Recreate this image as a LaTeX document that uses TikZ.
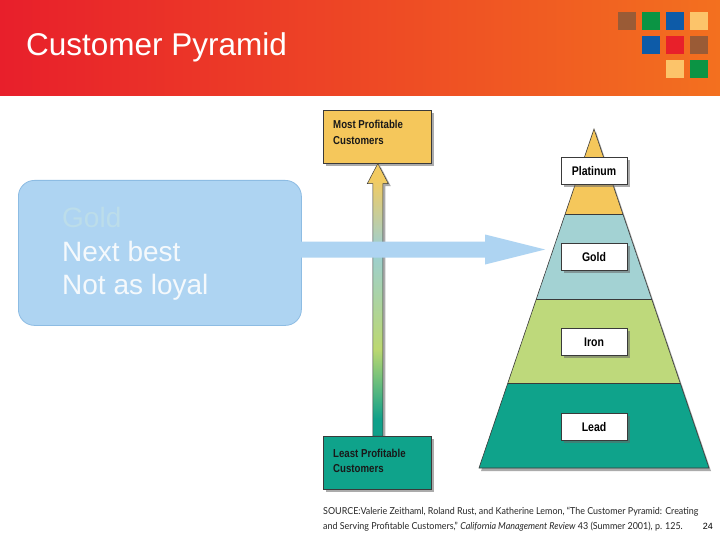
\documentclass[tikz,border=0pt]{standalone}
\usepackage{fontspec}
\usepackage{graphicx}
\setmainfont{Liberation Sans}
\newfontfamily\srcfont{Lato}
\usetikzlibrary{shadows,calc}
\definecolor{hdrL}{HTML}{E81F2B}
\definecolor{hdrR}{HTML}{F3701F}
\definecolor{sqBrown}{HTML}{9A5B36}
\definecolor{sqGreen}{HTML}{0B9444}
\definecolor{sqBlue}{HTML}{0D5BA8}
\definecolor{sqYel}{HTML}{FCC46A}
\definecolor{sqRed}{HTML}{E8202A}
\definecolor{boxF}{HTML}{AED4F2}
\definecolor{boxB}{HTML}{8DBCE3}
\definecolor{goldTxt}{HTML}{BCDDEA}
\definecolor{txtW}{HTML}{F5F9FC}
\definecolor{plat}{HTML}{F5C75B}
\definecolor{goldL}{HTML}{A3D2D3}
\definecolor{ironL}{HTML}{BED97B}
\definecolor{leadL}{HTML}{0FA38B}
\definecolor{arrY}{HTML}{F2CB62}
\definecolor{arrB}{HTML}{9CCFD3}
\definecolor{arrG}{HTML}{BCD871}
\definecolor{arrT}{HTML}{0FA08A}
\definecolor{outl}{HTML}{3A3A3A}
\pgfdeclareverticalshading{vgrad}{100bp}{color(0bp)=(arrT); color(28bp)=(arrT); color(41bp)=(arrG); color(59bp)=(arrB); color(72bp)=(arrY); color(100bp)=(arrY)}
\newcommand{\cnd}[1]{\scalebox{0.84}[1]{#1}}
\tikzset{
  shd/.style={drop shadow={shadow xshift=2.5pt, shadow yshift=-2.5pt, fill=black!60, opacity=0.55}},
  lblbox/.style={draw=outl, line width=0.6pt, fill=white, minimum width=66pt, minimum height=27pt, inner sep=0pt, shd,
    font=\bfseries\fontsize{12.5}{13}\selectfont},
  custbox/.style={draw=outl, line width=0.6pt, minimum width=108pt, minimum height=53pt, inner sep=0pt, anchor=north west, shd},
  custtxt/.style={anchor=base west, inner sep=0pt, font=\bfseries\fontsize{11.5}{12}\selectfont, text=black!90},
  bigtxt/.style={anchor=base west, inner sep=0pt, font=\fontsize{28}{30}\selectfont},
  srctxt/.style={anchor=base west, inner sep=0pt, font=\srcfont\fontsize{9.6}{11}\selectfont, text=black!85}
}
\begin{document}
\begin{tikzpicture}[x=1pt,y=-1pt]
\useasboundingbox (0,0) rectangle (720,540);
\fill[white] (0,0) rectangle (720,540);
% header
\shade[left color=hdrL, right color=hdrR] (0,0) rectangle (720,96);
\node[anchor=base west, inner sep=0pt, text=white, font=\fontsize{31.5}{33}\selectfont] (title) at (26,56) {Customer Pyramid};
% squares
\fill[sqBrown] (618,12) rectangle (636,30);
\fill[sqGreen] (642,12) rectangle (660,30);
\fill[sqBlue]  (666,12) rectangle (684,30);
\fill[sqYel]   (690,12) rectangle (708,30);
\fill[sqBlue]  (642,36) rectangle (660,54);
\fill[sqRed]   (666,36) rectangle (684,54);
\fill[sqBrown] (690,36) rectangle (708,54);
\fill[sqYel]   (666,60) rectangle (684,78);
\fill[sqGreen] (690,60) rectangle (708,78);
% customer boxes
\node[custbox, fill=plat] (mostp) at (323,110) {};
\node[custtxt] (mostt1) at (333,129) {\cnd{Most Profitable}};
\node[custtxt] (mostt2) at (333,145) {\cnd{Customers}};
\node[custbox, fill=leadL] (leastp) at (323,436) {};
\node[custtxt] (leastt1) at (333,457) {\cnd{Least Profitable}};
\node[custtxt] (leastt2) at (333,472) {\cnd{Customers}};
% vertical arrow
\coordinate (tip) at ($(mostp.south)+(0.5,0)$);
\coordinate (base) at ($(leastp.north)+(0.5,0)$);
\fill[black!60, opacity=0.55] ($(tip)+(2.5,2.5)$) -- ++(10.5,20) -- ++(-5.5,0) |- ($(base)+(-2.5,0)$) -- cycle;
\shade[shading=vgrad, draw=outl, line width=0.5pt] (tip) -- ++(10.5,20) -- ++(-5.5,0) -- ($(base)+(5,0)$) -- ($(base)+(-5,0)$) -- ($(tip)+(-5,20)$) -- ++(-5.5,0) -- cycle;
% pyramid
\coordinate (A) at (594,129);
\coordinate (BL) at (479,468);
\coordinate (BR) at (709,468);
\fill[black!55, opacity=0.6] ($(A)+(2,3)$) -- ($(BR)+(2,3)$) -- ($(BL)+(2,3)$) -- cycle;
\fill[leadL] (BL) -- (BR) -- ($(A)!0.7493!(BR)$) -- ($(A)!0.7493!(BL)$) -- cycle;
\fill[ironL] ($(A)!0.7493!(BL)$) -- ($(A)!0.7493!(BR)$) -- ($(A)!0.5015!(BR)$) -- ($(A)!0.5015!(BL)$) -- cycle;
\fill[goldL] ($(A)!0.5015!(BL)$) -- ($(A)!0.5015!(BR)$) -- ($(A)!0.2507!(BR)$) -- ($(A)!0.2507!(BL)$) -- cycle;
\fill[plat] ($(A)!0.2507!(BL)$) -- ($(A)!0.2507!(BR)$) -- (A) -- cycle;
\draw[outl, line width=0.6pt] ($(A)!0.2507!(BL)$) -- ($(A)!0.2507!(BR)$);
\draw[outl, line width=0.6pt] ($(A)!0.5015!(BL)$) -- ($(A)!0.5015!(BR)$);
\draw[outl, line width=0.6pt] ($(A)!0.7493!(BL)$) -- ($(A)!0.7493!(BR)$);
\draw[outl, line width=0.6pt, line join=miter] (A) -- (BR) -- (BL) -- cycle;
\node[lblbox] (platinum) at (594,171) {\cnd{Platinum}};
\node[lblbox] (gold) at (594,257) {\cnd{Gold}};
\node[lblbox] (iron) at (594,342) {\cnd{Iron}};
\node[lblbox] (lead) at (594,427) {\cnd{Lead}};
% blue callout box
\node[draw=boxB, fill=boxF, line width=0.8pt, rounded corners=16pt, minimum width=283pt, minimum height=145pt, anchor=north west, inner sep=0pt] (box) at (18,180) {};
\node[bigtxt, text=goldTxt] (t1) at (62,228) {Gold};
\node[bigtxt, text=txtW] (t2) at (62,261) {Next best};
\node[bigtxt, text=txtW] (t3) at (62,294) {Not as loyal};
% blue arrow
\coordinate (bs) at (300,249.5);
\coordinate (bt) at (545,249.5);
\fill[boxF] ($(bs)+(0,-8)$) -- ($(bt)+(-60,-8)$) -- ($(bt)+(-60,-15)$) -- (bt) -- ($(bt)+(-60,15)$) -- ($(bt)+(-60,8)$) -- ($(bs)+(0,8)$) -- cycle;
% source
\node[srctxt] (src1) at (323,514) {\scalebox{0.93}[1]{SOURCE:Valerie Zeithaml, Roland Rust, and Katherine Lemon, “The Customer Pyramid: Creating}};
\node[srctxt] (src2) at (323,529) {\scalebox{0.93}[1]{and Serving Profitable Customers,” \textit{California Management Review} 43 (Summer 2001), p. 125.}};
\node[anchor=base east, inner sep=0pt, font=\fontsize{9}{10}\selectfont] (pg) at (713,529) {24};
\end{tikzpicture}
\end{document}
